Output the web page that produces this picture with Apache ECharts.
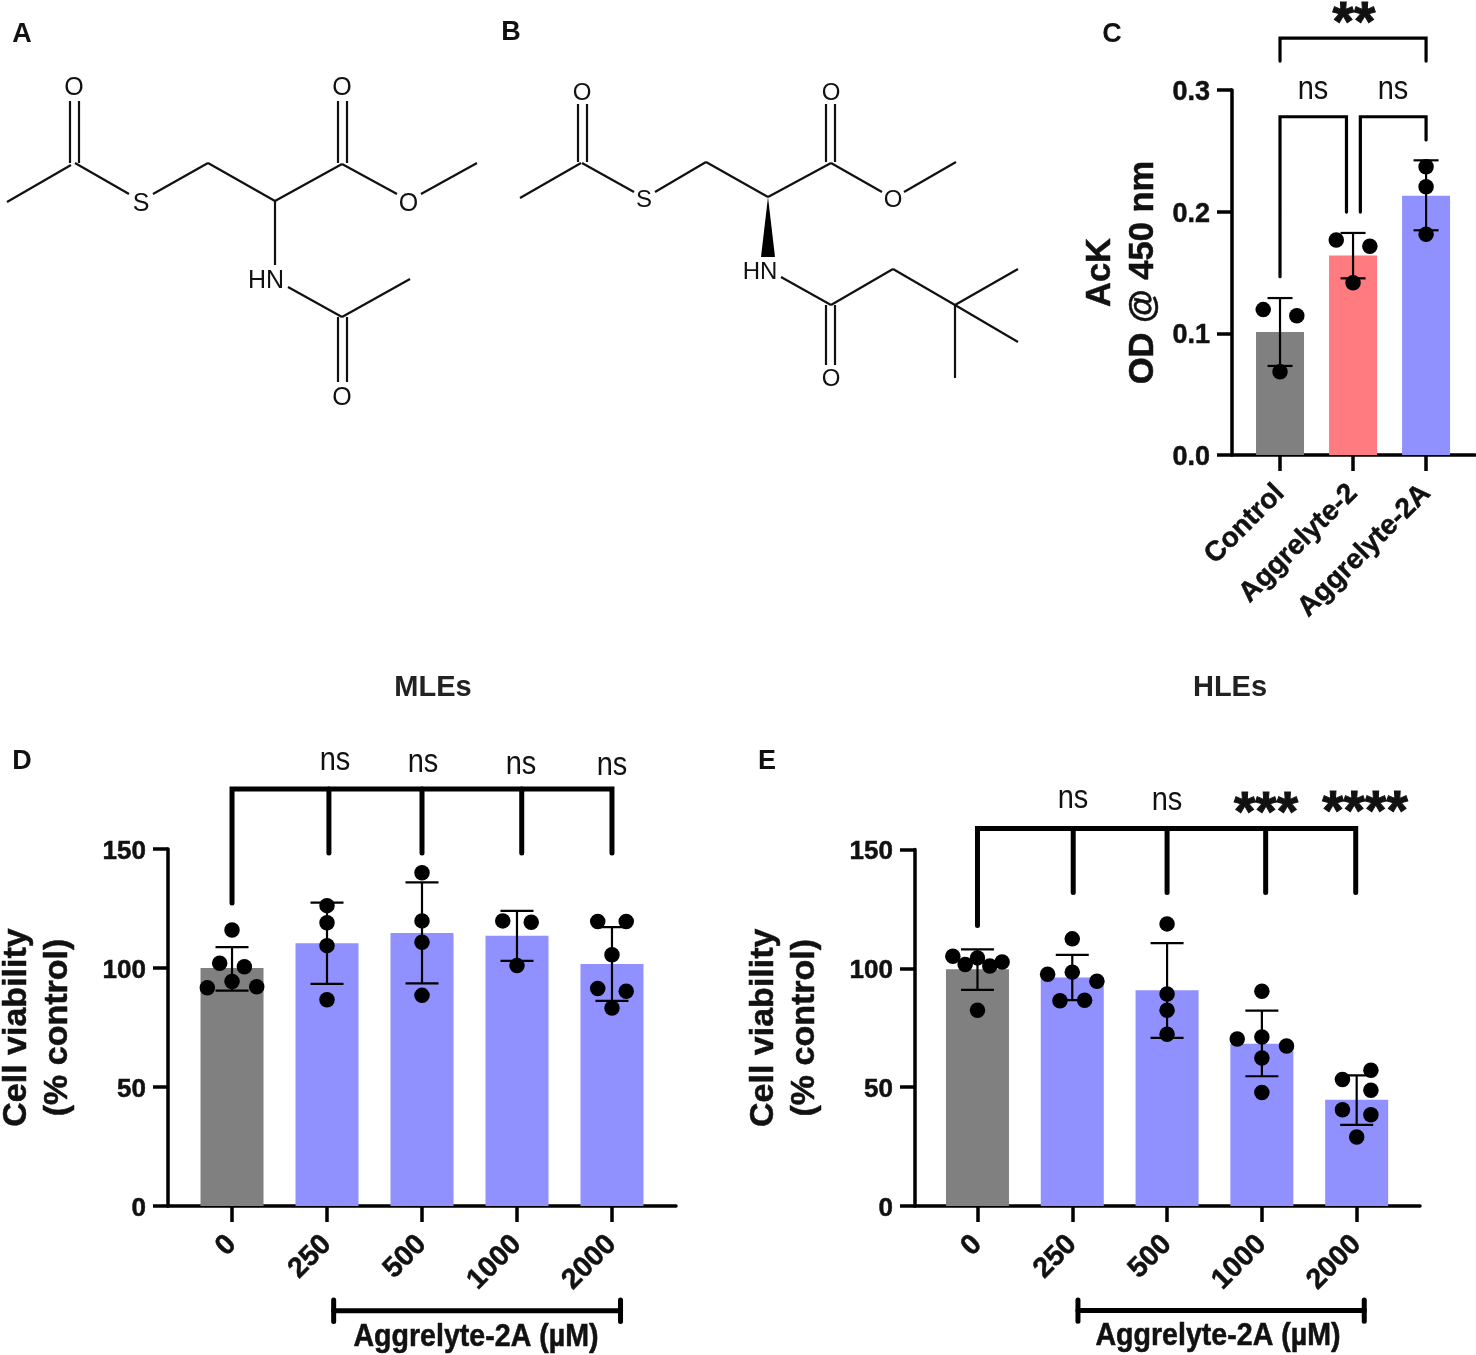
<!DOCTYPE html>
<html>
<head>
<meta charset="utf-8">
<title>Aggrelyte-2A</title>
<script src="https://cdn.jsdelivr.net/npm/echarts@6/dist/echarts.min.js"></script>
<style>
html,body{margin:0;padding:0;background:#fff;}
#main{width:1476px;height:1355px;}
</style>
</head>
<body>
<div id="main"></div>
<script>
// panel C
var cCats = ['Control', 'Aggrelyte-2', 'Aggrelyte-2A'];
var cMeans = [0.101, 0.164, 0.213];
var cLow = [0.0732, 0.1452, 0.1847];
var cHigh = [0.129, 0.1825, 0.2422];
var cDots = [
	[[-0.23, 0.1195], [0.23, 0.1145], [0, 0.0685]],
	[[-0.23, 0.1767], [0.23, 0.1715], [0, 0.1416]],
	[[0, 0.237], [0, 0.2205], [0, 0.1814]]
];
var cTicks = [0, 0.1, 0.2, 0.3];

// panel D (MLEs)
var doseCats = ['0', '250', '500', '1000', '2000'];
var dMeans = [100, 110.4, 114.7, 113.5, 101.7];
var dLow = [90.5, 93.3, 93.5, 103, 86.2];
var dHigh = [108.8, 127.5, 136, 124, 117.2];
var dDots = [
	[[0, 116], [-0.13, 102], [0.13, 100.5], [0, 94.3], [-0.26, 91.7], [0.26, 92.1]],
	[[0, 126.2], [0, 119], [0, 109.4], [0, 86.7]],
	[[0, 140], [0, 119.8], [0, 110.8], [0, 88.5]],
	[[-0.15, 119.8], [0.15, 119.2], [0, 101]],
	[[-0.15, 119.5], [0.15, 119.5], [0, 105.6], [-0.15, 91.4], [0.15, 90.2], [0, 83.2]]
];

// panel E (HLEs)
var eMeans = [99.6, 96.1, 90.8, 68.3, 44.7];
var eLow = [90.9, 86.6, 70.7, 54.6, 34.1];
var eHigh = [108, 105.7, 110.6, 82.2, 55];
var eDots = [
	[[-0.26, 105.1], [-0.13, 101.6], [0, 104.4], [0.13, 101], [0.26, 102.7], [0, 82.4]],
	[[0, 112.4], [-0.26, 97.5], [0, 98.4], [0.26, 94.6], [-0.13, 86.4], [0.13, 86.6]],
	[[0, 118.7], [0, 89.2], [0, 82.4], [0, 72.3]],
	[[0, 90.4], [-0.26, 70.3], [0, 71.1], [0.26, 67.3], [0, 62.3], [0, 47.8]],
	[[0.15, 57.1], [-0.15, 53.2], [0.15, 48.7], [-0.15, 40.5], [0.15, 38.4], [0, 29]]
];
var cellTicks = [0, 50, 100, 150];

// significance brackets, in axis units
var cBrackets = [
	[[0, 0.3238], [0, 0.3427], [2, 0.3427], [2, 0.3238]],
	[[0, 0.1465], [0, 0.278], [0.91, 0.278], [0.91, 0.1997]],
	[[1.1, 0.1997], [1.1, 0.278], [2, 0.278], [2, 0.259]]
];
var dBrackets = [
	[[0, 127.3], [0, 175.2], [4, 175.2], [4, 148.3]],
	[[1.02, 175.2], [1.02, 148.3]],
	[[2, 175.2], [2, 148.3]],
	[[3.05, 175.2], [3.05, 148.3]],
	[[1.07, -44], [4.09, -44]],
	[[1.07, -39.5], [1.07, -48.5]],
	[[4.09, -39.5], [4.09, -48.5]]
];
var eBrackets = [
	[[0, 118], [0, 158.8], [3.99, 158.8], [3.99, 131.9]],
	[[1.01, 158.8], [1.01, 131.9]],
	[[2, 158.8], [2, 131.9]],
	[[3.04, 158.8], [3.04, 131.9]],
	[[1.06, -44], [4.08, -44]],
	[[1.06, -39.5], [1.06, -48.5]],
	[[4.08, -39.5], [4.08, -48.5]]
];

// chemical structures, page pixels
var bondsA = [
	[7,202,71,165],[70,101,70,163],[79,101,79,163],[75,163,129,194],[153,194,208,163],
	[208,163,275,201],[275,201,342,164],[338,101,338,163],[347,101,347,163],[342,164,397,194],
	[421,194,477,163],[275,201,275,265],[288,287,342,317],[342,317,410,279],[338,317,338,382],[347,317,347,382]
];
var atomsA = [['O',74,88],['S',141,204],['O',342,88],['O',408.5,204],['HN',266,281],['O',342,398]];
var bondsB = [
	[520,198,581,163],[578,104,578,162],[587,104,587,162],[582,163,634,192],[655,192,706,162],
	[706,162,768,197],[768,197,831,163],[826,104,826,162],[835,104,835,162],[831,163,882,192],
	[904,192,956,162],[781,277,831,305],[831,305,893,269],[893,269,955,305],[955,305,1018,269],
	[955,305,1018,342],[955,305,955,378],[826,305,826,365],[835,305,835,365]
];
var atomsB = [['O',582,93],['S',644,200],['O',831,93],['O',893,200],['HN',760,272],['O',831,379]];

var GRAY = '#808080', RED = '#ff7b7f', BLUE = '#9090ff';
var FONT = '"Liberation Sans", Arial, sans-serif';

var grids = [], xAxes = [], yAxes = [], series = [];

function addPanel(p) {
	var idx = grids.length;
	grids.push({left: p.left, top: p.top, width: p.width, height: p.height, outerBoundsMode: 'none'});
	var pos = p.cats.map(function (c, i) { return i; });
	xAxes.push({
		gridIndex: idx, type: 'value', min: p.xMin, max: p.xMax,
		splitLine: {show: false},
		axisLine: {lineStyle: {color: '#000', width: 3.5}},
		axisTick: {customValues: pos, length: 16, lineStyle: {color: '#000', width: 3.5}},
		axisLabel: {
			customValues: pos, rotate: 45, margin: p.xMargin, color: '#111',
			fontFamily: FONT, fontWeight: 'bold', fontSize: p.xLabelSize,
			textBorderColor: '#111', textBorderWidth: 0.5,
			formatter: function (v) { return p.cats[v]; }
		}
	});
	yAxes.push({
		gridIndex: idx, type: 'value', min: 0, max: p.ticks[p.ticks.length - 1],
		interval: p.ticks[1] - p.ticks[0],
		name: p.yName, nameLocation: 'middle', nameRotate: 90, nameGap: p.nameGap,
		nameTextStyle: {fontFamily: FONT, fontWeight: 'bold', fontSize: p.nameSize, lineHeight: p.nameLine, color: '#111',
			textBorderColor: '#111', textBorderWidth: 0.5},
		splitLine: {show: false},
		axisLine: {onZero: false, lineStyle: {color: '#000', width: 3.5}},
		axisTick: {length: 15, lineStyle: {color: '#000', width: 3.5}},
		axisLabel: {
			margin: 22, color: '#111', fontFamily: FONT, fontWeight: 'bold', fontSize: p.labelSize,
			formatter: function (v) { return '{v|' + (p.decimals ? v.toFixed(p.decimals) : String(v)) + '}'; },
			rich: {v: {
				padding: [5, 0, 0, 0], color: '#111', fontFamily: FONT, fontWeight: 'bold', fontSize: p.labelSize,
				textBorderColor: '#111', textBorderWidth: 0.5
			}}
		}
	});
	series.push({
		type: 'bar', xAxisIndex: idx, yAxisIndex: idx, barWidth: p.barWidth, z: 1,
		data: p.means.map(function (m, i) {
			return {value: [i, m], itemStyle: {color: p.colors[i]}};
		})
	});
	series.push({
		type: 'custom', xAxisIndex: idx, yAxisIndex: idx, z: 2,
		data: p.means.map(function (m, i) { return [i, p.low[i], p.high[i]]; }),
		renderItem: function (params, api) {
			var a = api.coord([api.value(0), api.value(1)]);
			var b = api.coord([api.value(0), api.value(2)]);
			var s = {stroke: '#000', lineWidth: 2.2};
			var cap = p.capWidth / 2;
			return {type: 'group', children: [
				{type: 'line', shape: {x1: a[0], y1: a[1], x2: b[0], y2: b[1]}, style: s},
				{type: 'line', shape: {x1: a[0] - cap, y1: a[1], x2: a[0] + cap, y2: a[1]}, style: s},
				{type: 'line', shape: {x1: b[0] - cap, y1: b[1], x2: b[0] + cap, y2: b[1]}, style: s}
			]};
		}
	});
	var dots = [];
	p.dots.forEach(function (group, i) {
		group.forEach(function (d) { dots.push([i + d[0], d[1]]); });
	});
	series.push({
		type: 'scatter', xAxisIndex: idx, yAxisIndex: idx, z: 3, symbolSize: 15.5,
		itemStyle: {color: '#000', opacity: 1}, data: dots
	});
	series.push({
		type: 'custom', xAxisIndex: idx, yAxisIndex: idx, z: 4, clip: false,
		data: p.brackets.map(function (b, i) { return [i, 0]; }),
		renderItem: function (params, api) {
			var pts = p.brackets[params.dataIndex].map(function (q) { return api.coord(q); });
			return {type: 'polyline', shape: {points: pts},
				style: {stroke: '#000', fill: null, lineWidth: p.bracketWidth, lineCap: 'round', lineJoin: 'miter'}};
		}
	});
}

addPanel({
	left: 1232, top: 90, width: 243, height: 365, xMin: -0.6575, xMax: 2.67,
	cats: cCats, means: cMeans, low: cLow, high: cHigh, dots: cDots, ticks: cTicks, decimals: 1,
	colors: [GRAY, RED, BLUE], brackets: cBrackets, bracketWidth: 3.2, barWidth: 48, capWidth: 25,
	labelSize: 27, xLabelSize: 28, xMargin: 34, yName: 'AcK\nOD @ 450 nm', nameGap: 67, nameSize: 34.5, nameLine: 43
});
addPanel({
	left: 168, top: 849, width: 508, height: 357, xMin: -0.674, xMax: 4.674,
	cats: doseCats, means: dMeans, low: dLow, high: dHigh, dots: dDots, ticks: cellTicks, decimals: 0,
	colors: [GRAY, BLUE, BLUE, BLUE, BLUE], brackets: dBrackets, bracketWidth: 5, barWidth: 63, capWidth: 33,
	labelSize: 26, xLabelSize: 28.5, xMargin: 34, yName: 'Cell viability\n(% control)', nameGap: 90, nameSize: 34, nameLine: 41
});
addPanel({
	left: 915, top: 849.5, width: 505, height: 356.5, xMin: -0.659, xMax: 4.668,
	cats: doseCats, means: eMeans, low: eLow, high: eHigh, dots: eDots, ticks: cellTicks, decimals: 0,
	colors: [GRAY, BLUE, BLUE, BLUE, BLUE], brackets: eBrackets, bracketWidth: 5, barWidth: 63, capWidth: 33,
	labelSize: 26, xLabelSize: 28.5, xMargin: 34, yName: 'Cell viability\n(% control)', nameGap: 90, nameSize: 34, nameLine: 41
});

// free text and the two structures
var graphics = [];
function addText(t, x, y, size, weight, color, stretch, border) {
	graphics.push({type: 'text', silent: true, x: x, y: y, scaleY: stretch || 1, style: {
		text: t, x: 0, y: 0, align: 'center', verticalAlign: 'middle',
		fontFamily: FONT, fontSize: size, fontWeight: weight || 'normal', fill: color || '#111',
		stroke: border ? (color || '#111') : null, lineWidth: border || 0
	}});
}
function addStructure(bonds, atoms, size) {
	bonds.forEach(function (b) {
		graphics.push({type: 'line', silent: true, shape: {x1: b[0], y1: b[1], x2: b[2], y2: b[3]},
			style: {stroke: '#111', lineWidth: 2.2}});
	});
	atoms.forEach(function (a) { addText(a[0], a[1], a[2], size); });
}
addStructure(bondsA, atomsA, 25);
addStructure(bondsB, atomsB, 24);
graphics.push({type: 'polygon', silent: true, shape: {points: [[768, 197], [761, 257], [775, 257]]}, style: {fill: '#000'}});

addText('A', 22, 35, 27, 'bold');
addText('B', 511, 33, 27, 'bold');
addText('C', 1112, 35, 27, 'bold');
addText('D', 22, 762, 27, 'bold');
addText('E', 767, 762, 27, 'bold');
addText('MLEs', 433, 688, 29, 'bold', '#222');
addText('HLEs', 1230, 688, 29, 'bold', '#222');

addText('ns', 1313, 90, 29, 'normal', '#111', 1.15);
addText('ns', 1393, 90, 29, 'normal', '#111', 1.15);
addText('**', 1354, 25, 55, 'bold', '#111', 1, 1);

addText('ns', 335, 761, 29, 'normal', '#111', 1.15);
addText('ns', 423, 763, 29, 'normal', '#111', 1.15);
addText('ns', 521, 765, 29, 'normal', '#111', 1.15);
addText('ns', 612, 766, 29, 'normal', '#111', 1.15);

addText('ns', 1073, 799, 29, 'normal', '#111', 1.15);
addText('ns', 1167, 801, 29, 'normal', '#111', 1.15);
addText('***', 1266, 815, 55, 'bold', '#111', 1, 1);
addText('****', 1365, 814, 55, 'bold', '#111', 1, 1);

addText('Aggrelyte-2A (µM)', 476, 1337, 28.6, 'bold', '#111', 1.08, 0.5);
addText('Aggrelyte-2A (µM)', 1218, 1336, 28.6, 'bold', '#111', 1.08, 0.5);

var chart = echarts.init(document.getElementById('main'));
chart.setOption({
	animation: false,
	backgroundColor: '#fff',
	grid: grids,
	xAxis: xAxes,
	yAxis: yAxes,
	series: series,
	graphic: graphics
});
</script>
</body>
</html>
